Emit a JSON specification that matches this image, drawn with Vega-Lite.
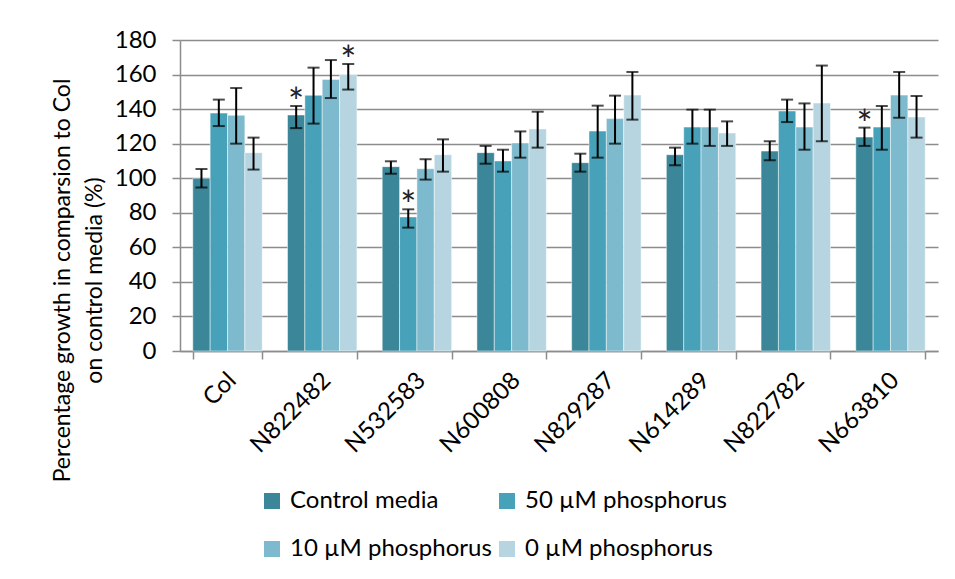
{
  "$schema": "https://vega.github.io/schema/vega-lite/v6.json",
  "width": 758,
  "height": 311,
  "autosize": "none",
  "padding": {"left": 180, "top": 40, "right": 17, "bottom": 228},
  "background": "white",
  "config": {
    "view": {"stroke": null},
    "font": "Lato",
    "text": {"font": "Lato"},
    "axisY": {
      "labelOverlap": false,
      "titleFontSize": 23,
      "titleFont": "Lato",
      "titleFontWeight": "normal",
      "titleColor": "black",
      "titleLineHeight": 32,
      "titleAngle": -90,
      "titleAlign": "center",
      "titleBaseline": "middle",
      "titleX": -118,
      "titleY": 240,
      "labelFontSize": 24,
      "labelFont": "Lato",
      "labelColor": "black",
      "labelPadding": 16,
      "tickSize": 8,
      "tickColor": "#8c8c8c",
      "tickWidth": 1.5,
      "domainColor": "#8c8c8c",
      "domainWidth": 1.5,
      "grid": true,
      "gridColor": "#8c8c8c",
      "gridWidth": 1.5
    }
  },
  "data": {
    "values": [
      {"g": "Col", "t": "Control media", "v": 100, "lo": 94.7, "hi": 105.3, "star": ""},
      {"g": "Col", "t": "50 µM phosphorus", "v": 137.7, "lo": 130.2, "hi": 145.5, "star": ""},
      {"g": "Col", "t": "10 µM phosphorus", "v": 136.4, "lo": 120, "hi": 152.2, "star": ""},
      {"g": "Col", "t": "0 µM phosphorus", "v": 114.8, "lo": 105, "hi": 123.5, "star": ""},
      {"g": "N822482", "t": "Control media", "v": 136.6, "lo": 129, "hi": 141.8, "star": "*"},
      {"g": "N822482", "t": "50 µM phosphorus", "v": 148, "lo": 131.6, "hi": 164, "star": ""},
      {"g": "N822482", "t": "10 µM phosphorus", "v": 157.2, "lo": 146.4, "hi": 168.4, "star": ""},
      {"g": "N822482", "t": "0 µM phosphorus", "v": 160, "lo": 151.3, "hi": 166.1, "star": "*"},
      {"g": "N532583", "t": "Control media", "v": 106.7, "lo": 102.6, "hi": 109.8, "star": ""},
      {"g": "N532583", "t": "50 µM phosphorus", "v": 77.6, "lo": 71.4, "hi": 82, "star": "*"},
      {"g": "N532583", "t": "10 µM phosphorus", "v": 105.5, "lo": 99.2, "hi": 111, "star": ""},
      {"g": "N532583", "t": "0 µM phosphorus", "v": 113.6, "lo": 103.8, "hi": 122.5, "star": ""},
      {"g": "N600808", "t": "Control media", "v": 114.8, "lo": 108.4, "hi": 118.7, "star": ""},
      {"g": "N600808", "t": "50 µM phosphorus", "v": 110, "lo": 103.8, "hi": 116.5, "star": ""},
      {"g": "N600808", "t": "10 µM phosphorus", "v": 120.4, "lo": 111.9, "hi": 127.1, "star": ""},
      {"g": "N600808", "t": "0 µM phosphorus", "v": 128.5, "lo": 117.7, "hi": 138.5, "star": ""},
      {"g": "N829287", "t": "Control media", "v": 109, "lo": 103.8, "hi": 114.2, "star": ""},
      {"g": "N829287", "t": "50 µM phosphorus", "v": 127.3, "lo": 111.9, "hi": 142, "star": ""},
      {"g": "N829287", "t": "10 µM phosphorus", "v": 134.5, "lo": 120, "hi": 147.8, "star": ""},
      {"g": "N829287", "t": "0 µM phosphorus", "v": 148.1, "lo": 133.9, "hi": 161.5, "star": ""},
      {"g": "N614289", "t": "Control media", "v": 113.6, "lo": 107.5, "hi": 117.7, "star": ""},
      {"g": "N614289", "t": "50 µM phosphorus", "v": 129.6, "lo": 120, "hi": 139.7, "star": ""},
      {"g": "N614289", "t": "10 µM phosphorus", "v": 129.6, "lo": 118.7, "hi": 139.7, "star": ""},
      {"g": "N614289", "t": "0 µM phosphorus", "v": 126.2, "lo": 118.7, "hi": 132.9, "star": ""},
      {"g": "N822782", "t": "Control media", "v": 115.7, "lo": 110.4, "hi": 121.4, "star": ""},
      {"g": "N822782", "t": "50 µM phosphorus", "v": 138.9, "lo": 132.5, "hi": 145.5, "star": ""},
      {"g": "N822782", "t": "10 µM phosphorus", "v": 129.6, "lo": 116.5, "hi": 143.3, "star": ""},
      {"g": "N822782", "t": "0 µM phosphorus", "v": 143.5, "lo": 121.4, "hi": 165.2, "star": ""},
      {"g": "N663810", "t": "Control media", "v": 123.8, "lo": 118.7, "hi": 129.3, "star": "*"},
      {"g": "N663810", "t": "50 µM phosphorus", "v": 129.6, "lo": 116.5, "hi": 141.8, "star": ""},
      {"g": "N663810", "t": "10 µM phosphorus", "v": 148.1, "lo": 135, "hi": 161.5, "star": ""},
      {"g": "N663810", "t": "0 µM phosphorus", "v": 135.4, "lo": 123.5, "hi": 147.6, "star": ""}
    ]
  },
  "encoding": {
    "x": {
      "field": "g",
      "type": "nominal",
      "sort": null,
      "scale": {"paddingInner": 0.267, "paddingOuter": 0.135},
      "axis": {
        "title": null,
        "labelAngle": -45,
        "labelFontSize": 24,
        "labelFont": "Lato",
        "labelColor": "black",
        "labelPadding": 9,
        "labelOffset": -4,
        "tickBand": "extent",
        "tickSize": 8,
        "tickColor": "#8c8c8c",
        "tickWidth": 1.5,
        "domainColor": "#8c8c8c",
        "domainWidth": 1.5,
        "grid": false
      }
    },
    "xOffset": {
      "field": "t",
      "type": "nominal",
      "sort": ["Control media", "50 µM phosphorus", "10 µM phosphorus", "0 µM phosphorus"],
      "scale": {"paddingInner": 0, "paddingOuter": 0}
    }
  },
  "layer": [
    {
      "mark": {"type": "bar", "stroke": "white", "strokeWidth": 0.8, "strokeOpacity": 0.6},
      "encoding": {
        "y": {
          "field": "v",
          "type": "quantitative",
          "title": ["Percentage growth in comparsion to Col", "on control media (%)"],
          "scale": {"domain": [0, 180], "nice": false},
          "axis": {"values": [0, 20, 40, 60, 80, 100, 120, 140, 160, 180]}
        },
        "color": {
          "field": "t",
          "type": "nominal",
          "scale": {
            "domain": ["Control media", "50 µM phosphorus", "10 µM phosphorus", "0 µM phosphorus"],
            "range": ["#3b8698", "#47a1b9", "#7ebacd", "#b6d5e0"]
          },
          "legend": {
            "title": null,
            "orient": "none",
            "legendX": 80,
            "legendY": 449,
            "columns": 2,
            "direction": "horizontal",
            "symbolType": "square",
            "symbolSize": 256,
            "symbolStrokeWidth": 0,
            "labelFontSize": 24,
            "labelFont": "Lato",
            "labelColor": "black",
            "labelOffset": 6,
            "rowPadding": 24,
            "columnPadding": 3,
            "padding": 0,
            "labelLimit": 300
          }
        }
      }
    },
    {
      "mark": {"type": "rule", "color": "black", "strokeWidth": 2},
      "encoding": {
        "y": {"field": "lo", "type": "quantitative", "title": ["Percentage growth in comparsion to Col", "on control media (%)"], "axis": {"values": [0, 20, 40, 60, 80, 100, 120, 140, 160, 180]}},
        "y2": {"field": "hi"}
      }
    },
    {
      "mark": {"type": "tick", "color": "black", "thickness": 2, "size": 12},
      "encoding": {"y": {"field": "lo", "type": "quantitative", "title": ["Percentage growth in comparsion to Col", "on control media (%)"], "axis": {"values": [0, 20, 40, 60, 80, 100, 120, 140, 160, 180]}}}
    },
    {
      "mark": {"type": "tick", "color": "black", "thickness": 2, "size": 12},
      "encoding": {"y": {"field": "hi", "type": "quantitative", "title": ["Percentage growth in comparsion to Col", "on control media (%)"], "axis": {"values": [0, 20, 40, 60, 80, 100, 120, 140, 160, 180]}}}
    },
    {
      "mark": {"type": "text", "fontSize": 38, "font": "Lato", "baseline": "alphabetic", "dy": 10, "color": "#222222"},
      "encoding": {
        "y": {"field": "hi", "type": "quantitative", "title": ["Percentage growth in comparsion to Col", "on control media (%)"], "axis": {"values": [0, 20, 40, 60, 80, 100, 120, 140, 160, 180]}},
        "text": {"field": "star"}
      }
    }
  ]
}
